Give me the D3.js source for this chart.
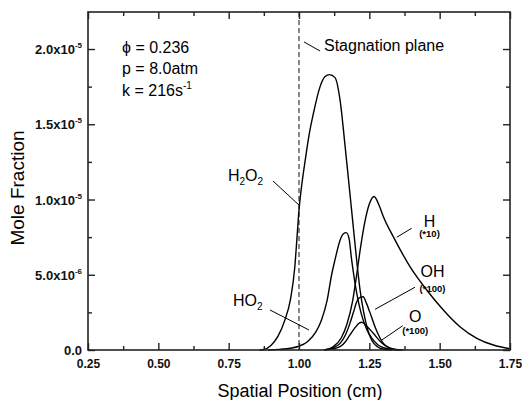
<!DOCTYPE html>
<html>
<head>
<meta charset="utf-8">
<script src="https://cdn.jsdelivr.net/npm/d3@7"></script>
<style>
  body { margin: 0; background: #fff; }
  svg { font-family: "Liberation Sans", Arial, sans-serif; }
</style>
</head>
<body>
<script>
'use strict';

// values are in units of 1e-5 (H is *10, OH and O are *100)
const unit = 1e-5;

const xTicks = [0.25, 0.5, 0.75, 1.0, 1.25, 1.5, 1.75];
const xMinor = [0.375, 0.625, 0.875, 1.125, 1.375, 1.625];
const xTickLabels = ['0.25', '0.50', '0.75', '1.00', '1.25', '1.50', '1.75'];
const yTicks = [0, 0.5e-5, 1e-5, 1.5e-5, 2e-5];
const yMinor = [0.25e-5, 0.75e-5, 1.25e-5, 1.75e-5];
const yTickMantissa = ['0.0', '5.0x10', '1.0x10', '1.5x10', '2.0x10'];
const yTickExp = ['', '-6', '-5', '-5', '-5'];

const h2o2 = [[0.86, 0], [0.875, 0.003], [0.90, 0.03], [0.925, 0.09], [0.95, 0.2], [0.97, 0.34],
  [0.985, 0.55], [0.993, 0.75], [1.0, 0.93], [1.01, 1.1], [1.022, 1.26], [1.035, 1.42], [1.051, 1.57],
  [1.075, 1.75], [1.092, 1.815], [1.108, 1.83], [1.128, 1.81], [1.146, 1.66], [1.163, 1.37],
  [1.181, 1.04], [1.195, 0.78], [1.207, 0.56], [1.217, 0.4], [1.23, 0.25], [1.245, 0.13],
  [1.26, 0.06], [1.28, 0.02], [1.30, 0.005], [1.33, 0]];

const ho2 = [[0.89, 0], [0.93, 0.004], [0.97, 0.012], [1.0, 0.025], [1.03, 0.055], [1.06, 0.12],
  [1.08, 0.2], [1.10, 0.33], [1.116, 0.5], [1.128, 0.6], [1.146, 0.73], [1.158, 0.772], [1.168, 0.78],
  [1.178, 0.74], [1.187, 0.6], [1.197, 0.47], [1.207, 0.36], [1.22, 0.25], [1.24, 0.14],
  [1.26, 0.075], [1.28, 0.035], [1.30, 0.015], [1.33, 0.004], [1.36, 0]];

const hAtom = [[1.09, 0], [1.12, 0.02], [1.15, 0.08], [1.17, 0.17], [1.19, 0.32], [1.205, 0.5],
  [1.217, 0.66], [1.235, 0.86], [1.25, 0.97], [1.267, 1.02], [1.285, 0.96], [1.30, 0.886],
  [1.335, 0.753], [1.395, 0.553], [1.454, 0.399], [1.513, 0.266], [1.572, 0.155], [1.632, 0.078],
  [1.691, 0.033], [1.75, 0.008]];

const oh = [[1.09, 0], [1.12, 0.015], [1.146, 0.044], [1.165, 0.1], [1.181, 0.177], [1.195, 0.26],
  [1.205, 0.32], [1.217, 0.35], [1.228, 0.354], [1.24, 0.31], [1.252, 0.25], [1.27, 0.155],
  [1.288, 0.08], [1.30, 0.044], [1.32, 0.015], [1.347, 0]];

const oAtom = [[1.09, 0], [1.12, 0.008], [1.146, 0.022], [1.165, 0.055], [1.181, 0.1], [1.2, 0.15],
  [1.215, 0.18], [1.223, 0.184], [1.24, 0.16], [1.264, 0.111], [1.29, 0.055], [1.312, 0.022],
  [1.34, 0.005], [1.37, 0]];

const stagnation = 1.0;

let w = 522, h = 400;
let margin = {top: 12, right: 12, bottom: 50, left: 88};

let svg = d3.select('body')
    .append('svg')
    .attr('width', w)
    .attr('height', h);

let x = d3.scaleLinear([0.25, 1.75], [margin.left, w - margin.right]);
let y = d3.scaleLinear([0, 2.246e-5], [h - margin.bottom, margin.top]);

// stagnation plane
svg.append('line')
    .attr('x1', x(stagnation)).attr('x2', x(stagnation))
    .attr('y1', y.range()[1]).attr('y2', y.range()[0])
    .attr('stroke', '#111')
    .attr('stroke-width', 1)
    .attr('stroke-dasharray', '5,3');

let line = d3.line()
    .x(d => x(d[0]))
    .y(d => y(d[1] * unit))
    .curve(d3.curveMonotoneX);

svg.selectAll('path.curve')
    .data([h2o2, ho2, hAtom, oh, oAtom])
    .enter()
    .append('path')
    .attr('class', 'curve')
    .attr('d', line)
    .attr('fill', 'none')
    .attr('stroke', '#000')
    .attr('stroke-width', 1.4);

// axes, ticks pointing inwards on all four sides
function styleAxis(g) {
    g.select('.domain').remove();
    g.selectAll('.tick line').attr('stroke', '#222').attr('stroke-width', 1.4);
}

let bottom = svg.append('g')
    .attr('transform', `translate(0,${y(0)})`)
    .call(d3.axisBottom(x).tickValues(xTicks).tickSize(-7).tickFormat((d, i) => xTickLabels[i]))
    .call(styleAxis);
bottom.selectAll('text')
    .attr('y', 18).attr('dy', 0)
    .attr('fill', '#111')
    .style('font-size', '12px').style('font-weight', 'bold')
    .style('font-family', '"Liberation Sans", Arial, sans-serif');
svg.append('g')
    .attr('transform', `translate(0,${y(0)})`)
    .call(d3.axisBottom(x).tickValues(xMinor).tickSize(-4).tickFormat(''))
    .call(styleAxis);
svg.append('g')
    .attr('transform', `translate(0,${margin.top})`)
    .call(d3.axisTop(x).tickValues(xTicks).tickSize(-7).tickFormat(''))
    .call(styleAxis);
svg.append('g')
    .attr('transform', `translate(0,${margin.top})`)
    .call(d3.axisTop(x).tickValues(xMinor).tickSize(-4).tickFormat(''))
    .call(styleAxis);

let left = svg.append('g')
    .attr('transform', `translate(${margin.left},0)`)
    .call(d3.axisLeft(y).tickValues(yTicks).tickSize(-7).tickPadding(6))
    .call(styleAxis);
left.selectAll('text')
    .attr('dy', '0.35em')
    .attr('fill', '#111')
    .style('font-size', '13px').style('font-weight', 'bold')
    .style('font-family', '"Liberation Sans", Arial, sans-serif')
    .text(null)
    .each(function (d, i) {
        let t = d3.select(this);
        t.append('tspan').text(yTickMantissa[i]);
        if (yTickExp[i]) {
            t.append('tspan').attr('dy', -6).style('font-size', '8px').text(yTickExp[i]);
        }
    });
svg.append('g')
    .attr('transform', `translate(${margin.left},0)`)
    .call(d3.axisLeft(y).tickValues(yMinor).tickSize(-4).tickFormat(''))
    .call(styleAxis);
svg.append('g')
    .attr('transform', `translate(${w - margin.right},0)`)
    .call(d3.axisRight(y).tickValues(yTicks).tickSize(-7).tickFormat(''))
    .call(styleAxis);
svg.append('g')
    .attr('transform', `translate(${w - margin.right},0)`)
    .call(d3.axisRight(y).tickValues(yMinor).tickSize(-4).tickFormat(''))
    .call(styleAxis);

svg.append('rect')
    .attr('x', margin.left).attr('y', margin.top)
    .attr('width', w - margin.left - margin.right)
    .attr('height', h - margin.top - margin.bottom)
    .attr('fill', 'none')
    .attr('stroke', '#222')
    .attr('stroke-width', 1.6);

// axis titles
svg.append('text')
    .attr('x', 300).attr('y', 397)
    .attr('text-anchor', 'middle')
    .style('font-size', '18px')
    .text('Spatial Position (cm)');
svg.append('text')
    .attr('transform', 'translate(24,188) rotate(-90)')
    .attr('text-anchor', 'middle')
    .style('font-size', '19px')
    .text('Mole Fraction');

// conditions
svg.append('text')
    .attr('x', x(0.3709)).attr('y', y(1.973 * unit))
    .style('font-size', '16px')
    .text('\u03d5 = 0.236');
svg.append('text')
    .attr('x', x(0.3709)).attr('y', y(1.831 * unit))
    .style('font-size', '16px')
    .text('p = 8.0atm');
let kText = svg.append('text')
    .attr('x', x(0.3709)).attr('y', y(1.688 * unit))
    .style('font-size', '16px');
kText.append('tspan').text('k = 216s');
kText.append('tspan').attr('dy', -7).style('font-size', '10px').text('-1');

// label pointers, in data coordinates
const pointers = [
    [[1.0178, 2.047], [1.0747, 1.987]],
    [[0.9076, 1.123], [1.0, 0.963]],
    [[0.8969, 0.266], [1.0355, 0.133]],
    [[1.4006, 0.809], [1.3473, 0.749]],
    [[1.4123, 0.417], [1.2701, 0.270]],
    [[1.3686, 0.161], [1.294, 0.066]]
];
svg.selectAll('line.pointer')
    .data(pointers)
    .enter()
    .append('line')
    .attr('class', 'pointer')
    .attr('x1', d => x(d[0][0])).attr('y1', d => y(d[0][1] * unit))
    .attr('x2', d => x(d[1][0])).attr('y2', d => y(d[1][1] * unit))
    .attr('stroke', '#000')
    .attr('stroke-width', 1);

svg.append('text')
    .attr('x', x(1.0889)).attr('y', y(1.987 * unit))
    .style('font-size', '16px')
    .text('Stagnation plane');

function formula(parts, px, py) {
    let t = svg.append('text')
        .attr('x', x(px)).attr('y', y(py * unit))
        .style('font-size', '16px');
    parts.forEach(p => {
        if (p === '2') {
            t.append('tspan').attr('dy', 4).style('font-size', '10px').text(p);
        } else {
            t.append('tspan').attr('dy', t.selectAll('tspan').size() ? -4 : 0).text(p);
        }
    });
}
formula(['H', '2', 'O', '2'], 0.7476, 1.096);
formula(['HO', '2'], 0.7654, 0.266);

const speciesLabels = [
    {name: 'H', factor: '(*10)', x: 1.4639, y: 0.819, fy: 0.748},
    {name: 'OH', factor: '(*100)', x: 1.4746, y: 0.483, fy: 0.385},
    {name: 'O', factor: '(*100)', x: 1.4130, y: 0.188, fy: 0.103}
];
speciesLabels.forEach(s => {
    svg.append('text')
        .attr('x', x(s.x)).attr('y', y(s.y * unit))
        .attr('text-anchor', 'middle')
        .style('font-size', '16px')
        .text(s.name);
    svg.append('text')
        .attr('x', x(s.x)).attr('y', y(s.fy * unit))
        .attr('text-anchor', 'middle')
        .style('font-size', '9.5px')
        .style('font-weight', 'bold')
        .text(s.factor);
});
</script>
</body>
</html>
